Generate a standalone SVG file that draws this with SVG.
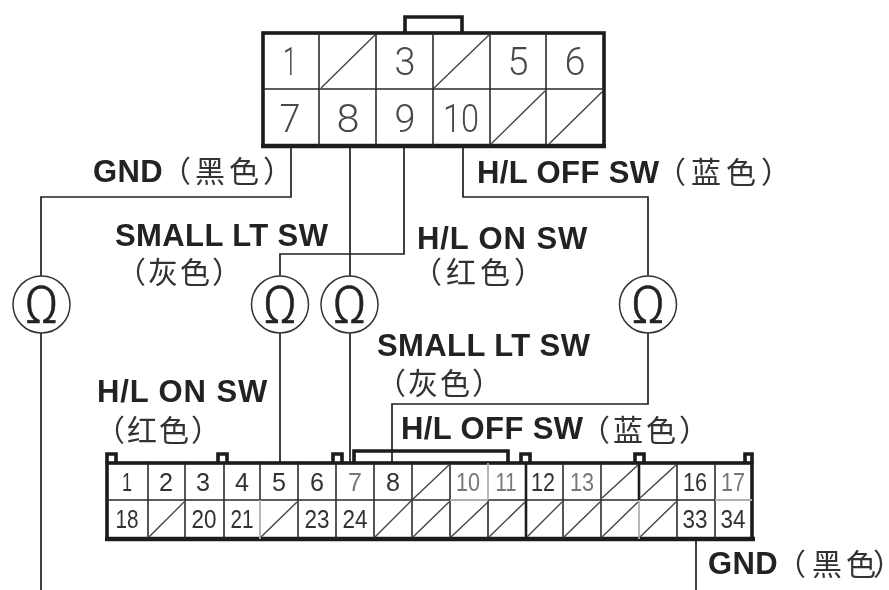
<svg xmlns="http://www.w3.org/2000/svg" width="889" height="590" viewBox="0 0 889 590">
<style>
.bg{fill:#fff}
.o{fill:none;stroke:#1c1c1c;stroke-width:3.6;stroke-linejoin:miter}
.b{fill:none;stroke:#1c1c1c;stroke-width:4.500}
.g{fill:none;stroke:#2a2a2a;stroke-width:1.6}
.h{fill:none;stroke:#1c1c1c;stroke-width:2.600}
.y{fill:none;stroke:#b0b0b0;stroke-width:1.800}
.d{fill:none;stroke:#444;stroke-width:1.400}
.w{fill:none;stroke:#222;stroke-width:1.700}
.c{fill:#fff;stroke:#333;stroke-width:1.500}
.om{font:300 52px Roboto,"Liberation Sans",sans-serif;fill:#222;stroke:#222;stroke-width:.6px;text-anchor:middle}
.n1{font:300 38px Roboto,"Liberation Sans",sans-serif;fill:#4a4a4a;text-anchor:middle}
.n2{font:25px "Liberation Sans",sans-serif;fill:#333;text-anchor:middle}
.lt{fill:#777}
.l{font:bold 31px "Liberation Sans","Noto Sans CJK SC",sans-serif;fill:#222;letter-spacing:.4px}
.on{letter-spacing:.9px}
.z{font:400 30px "Noto Sans CJK SC","Liberation Sans",sans-serif;fill:#333}
.s4{letter-spacing:2px}.s5{letter-spacing:3px}.s6{letter-spacing:4px}.s7{letter-spacing:5px}
.hf{letter-spacing:0;font-feature-settings:"halt"}
</style>
<defs><filter id="soft" filterUnits="userSpaceOnUse" x="0" y="0" width="889" height="590"><feGaussianBlur stdDeviation="0.45"/></filter></defs>
<rect class="bg" width="889" height="590"/>
<g filter="url(#soft)">
<g id="connectors">
<path class="w" d="M291 146V197H41V276M41 333V590"/>
<path class="w" d="M350 146V276M350 333V463"/>
<path class="w" d="M404 146V254H280V276M280 333V463"/>
<path class="w" d="M463 146V197H648V276M648 333V404H392V463"/>
<path class="w" d="M696 539V590"/>
</g>
<g id="connector-top">
<path class="o" d="M405 33V17H462V33"/>
<rect class="o" x="263" y="33" width="341" height="113"/>
<path class="b" d="M261 146H606"/>
<path class="g" d="M263 89H604M319 33V146M376 33V146M433 33V146M490 33V146M546 33V146"/>
<path class="d" d="M321 88L375 35M434 88L489 35M491 144L545 91M549 144L603 91"/>
<text class="n1" x="290" y="75" textLength="14" lengthAdjust="spacingAndGlyphs">1</text><text class="n1" x="405" y="75" textLength="21" lengthAdjust="spacingAndGlyphs">3</text><text class="n1" x="518" y="75" textLength="21" lengthAdjust="spacingAndGlyphs">5</text><text class="n1" x="575" y="75" textLength="21" lengthAdjust="spacingAndGlyphs">6</text>
<text class="n1" x="290" y="132" textLength="21" lengthAdjust="spacingAndGlyphs">7</text><text class="n1" x="348" y="132" textLength="23" lengthAdjust="spacingAndGlyphs">8</text><text class="n1" x="405" y="132" textLength="21" lengthAdjust="spacingAndGlyphs">9</text><text class="n1" x="461" y="132" textLength="36" lengthAdjust="spacingAndGlyphs">10</text>
</g>
<g id="connector-bottom">
<path class="o" d="M107 463V454H116V463M218 463V454H227V463M333 463V454H342V463M354 463V451H508V463M521 463V454H530V463M635 463V454H644V463M745 463V454H752V463"/>
<rect class="o" x="107" y="463" width="645" height="76"/>
<path class="b" d="M105 539H755"/>
<path class="g" d="M107 500H752M148 463V539M185 463V539M224 463V539M298 463V539M336 463V539M374 463V539M412 463V539M450 463V539M488 500V539M563 463V539M601 463V539M677 463V539M715 463V539M260 463V500"/>
<path class="h" d="M526 463V539M639 463V500"/>
<path class="y" d="M260 500V539M639 500V539M450 500H488M488 463V500M715 500H752"/>
<path class="d" d="M375 537L412 500M412 500L449 465M413 537L449 502M451 537L488 502M489 537L525 502M527 537L562 502M564 537L600 502M602 537L638 502M640 537L676 502M602 498L638 465M640 498L676 465M149 537L184 502M261 537L297 502"/>
<text class="n2" x="127" y="491" textLength="10" lengthAdjust="spacingAndGlyphs">1</text><text class="n2" x="166" y="491" textLength="14" lengthAdjust="spacingAndGlyphs">2</text><text class="n2" x="203" y="491" textLength="14" lengthAdjust="spacingAndGlyphs">3</text><text class="n2" x="242" y="491" textLength="14" lengthAdjust="spacingAndGlyphs">4</text><text class="n2" x="279" y="491" textLength="14" lengthAdjust="spacingAndGlyphs">5</text><text class="n2" x="317" y="491" textLength="14" lengthAdjust="spacingAndGlyphs">6</text><text class="n2 lt" x="355" y="491" textLength="14" lengthAdjust="spacingAndGlyphs">7</text><text class="n2" x="393" y="491" textLength="14" lengthAdjust="spacingAndGlyphs">8</text><text class="n2 lt" x="468" y="491" textLength="24" lengthAdjust="spacingAndGlyphs">10</text><text class="n2 lt" x="506" y="491" textLength="21" lengthAdjust="spacingAndGlyphs">11</text><text class="n2" x="543" y="491" textLength="24" lengthAdjust="spacingAndGlyphs">12</text><text class="n2 lt" x="582" y="491" textLength="24" lengthAdjust="spacingAndGlyphs">13</text><text class="n2" x="695" y="491" textLength="24" lengthAdjust="spacingAndGlyphs">16</text><text class="n2 lt" x="733" y="491" textLength="24" lengthAdjust="spacingAndGlyphs">17</text>
<text class="n2" x="127" y="528" textLength="23" lengthAdjust="spacingAndGlyphs">18</text><text class="n2" x="204" y="528" textLength="25" lengthAdjust="spacingAndGlyphs">20</text><text class="n2" x="242" y="528" textLength="23" lengthAdjust="spacingAndGlyphs">21</text><text class="n2" x="317" y="528" textLength="25" lengthAdjust="spacingAndGlyphs">23</text><text class="n2" x="355" y="528" textLength="25" lengthAdjust="spacingAndGlyphs">24</text><text class="n2" x="695" y="528" textLength="25" lengthAdjust="spacingAndGlyphs">33</text><text class="n2" x="733" y="528" textLength="25" lengthAdjust="spacingAndGlyphs">34</text>
</g>
<g id="ohm-1"><circle class="c" cx="41.500" cy="304.500" r="28.500"/><text class="om" x="41.500" y="323">Ω</text></g>
<g id="ohm-2"><circle class="c" cx="280" cy="304.500" r="28.500"/><text class="om" x="280" y="323">Ω</text></g>
<g id="ohm-3"><circle class="c" cx="349.500" cy="304.500" r="28.500"/><text class="om" x="349.500" y="323">Ω</text></g>
<g id="ohm-4"><circle class="c" cx="648" cy="304.500" r="28.500"/><text class="om" x="648" y="323">Ω</text></g>
<g id="labels">
<text class="l" x="93" y="182">GND<tspan class="z s6" x="161" y="182">（黑色）</tspan></text>
<text class="l" x="477" y="183">H/L OFF SW<tspan class="z s7" x="656" y="183">（蓝色）</tspan></text>
<text class="l" x="115" y="246">SMALL LT SW</text>
<text class="z s4" x="116" y="283">（灰色）</text>
<text class="l on" x="417" y="249">H/L ON SW</text>
<text class="z s6" x="412" y="283">（红色）</text>
<text class="l" x="377" y="356">SMALL LT SW</text>
<text class="z s4" x="376" y="394">（灰色）</text>
<text class="l on" x="97" y="402">H/L ON SW</text>
<text class="z s4" x="95" y="441">（红色）</text>
<text class="l" x="401" y="439">H/L OFF SW<tspan class="z s5" x="580" y="441">（蓝色）</tspan></text>
<text class="l" x="708" y="574">GND<tspan class="z hf" x="791 812 846 873" y="575">（黑色）</tspan></text>
</g>
</g>
</svg>
